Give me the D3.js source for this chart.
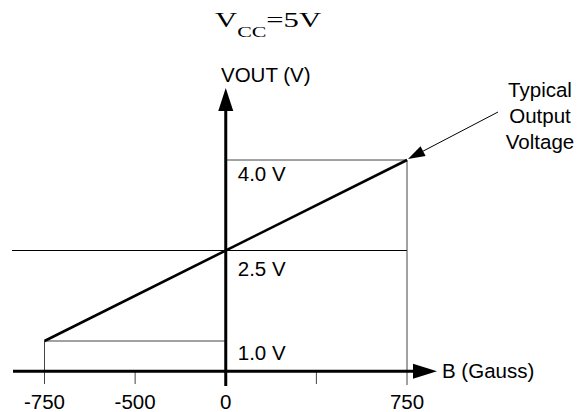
<!DOCTYPE html>
<html lang="en">
<head>
    <meta charset="UTF-8">
    <script src="https://d3js.org/d3.v7.min.js"></script>
    <title>VOUT vs B</title>
    <style>
        body { margin: 0; background: #fff; }
        svg text { font-family: Arial, "Liberation Sans", sans-serif; font-size: 20.5px; fill: #000; }
        .title text { font-family: "Times New Roman", "Liberation Serif", serif; }
        .ref { stroke: #444; stroke-width: 1px; }
    </style>
</head>
<body>
    <div id="chart"></div>
    <script>
        // data
        var tickValues = [-750, -375, 0, 375, 750];
        var tickLabels = ["-750", "-500", "0", "", "750"];
        var levelField = [-750, 0, 750];      // Gauss
        var levelVolts = [1.0, 2.5, 4.0];     // V
        var levelLabels = ["1.0 V", "2.5 V", "4.0 V"];
        var outputField = [-750, 750];
        var outputVolts = [1.0, 4.0];
        var noteLines = ["Typical", "Output", "Voltage"];

        // layout
        var labelDy = [19, 25, 21];
        var axisVolts = 0.5;     // where the B axis crosses
        var tickBottom = 384;

        var svg = d3.select("#chart")
            .append("svg")
            .attr("width", 586)
            .attr("height", 412);

        var x = d3.scaleLinear().domain([-750, 750]).range([44.5, 407]);
        var y = d3.scaleLinear().domain([1, 4]).range([341, 160]);
        var axisY = y(axisVolts);

        // reference lines
        svg.append("line").attr("class", "ref")
            .attr("x1", x(-750)).attr("x2", x(0))
            .attr("y1", y(1)).attr("y2", y(1));
        svg.append("line").attr("class", "ref")
            .attr("x1", x(-750)).attr("x2", x(-750))
            .attr("y1", y(1)).attr("y2", tickBottom);
        svg.append("line").attr("class", "ref").style("stroke", "#000")
            .attr("x1", 12).attr("x2", x(750))
            .attr("y1", y(2.5)).attr("y2", y(2.5));
        svg.append("line").attr("class", "ref")
            .attr("x1", x(0)).attr("x2", x(750))
            .attr("y1", y(4)).attr("y2", y(4));
        svg.append("line").attr("class", "ref")
            .attr("x1", x(750)).attr("x2", x(750))
            .attr("y1", y(4)).attr("y2", tickBottom + 1);

        // ticks below the B axis
        svg.selectAll(".tick")
            .data(tickValues.filter(function (d) { return d !== -750 && d !== 750 && d !== 0; }))
            .enter().append("line")
            .attr("class", "ref")
            .attr("x1", function (d) { return x(d); })
            .attr("x2", function (d) { return x(d); })
            .attr("y1", axisY)
            .attr("y2", tickBottom);

        svg.selectAll(".tick-label")
            .data(tickValues)
            .enter().append("text")
            .attr("x", function (d) { return x(d); })
            .attr("y", 409)
            .attr("text-anchor", "middle")
            .text(function (d, i) { return tickLabels[i]; });

        // axes
        svg.append("line")
            .attr("x1", 13).attr("x2", 416)
            .attr("y1", axisY).attr("y2", axisY)
            .attr("stroke", "#000").attr("stroke-width", 3);
        svg.append("path")
            .attr("d", d3.line()([[413, axisY - 7.5], [437, axisY], [413, axisY + 7.5]]))
            .attr("fill", "#000");
        svg.append("text").attr("x", 442).attr("y", axisY + 7).text("B (Gauss)");

        svg.append("line")
            .attr("x1", x(0)).attr("x2", x(0))
            .attr("y1", 108).attr("y2", tickBottom + 2)
            .attr("stroke", "#000").attr("stroke-width", 3);
        svg.append("path")
            .attr("d", d3.line()([[x(0) - 7.5, 111], [x(0), 88], [x(0) + 7.5, 111]]))
            .attr("fill", "#000");
        svg.append("text").attr("x", 221).attr("y", 82).text("VOUT (V)");

        // level labels
        svg.selectAll(".level")
            .data(levelVolts)
            .enter().append("text")
            .attr("x", x(0) + 12)
            .attr("y", function (d, i) { return y(d) + labelDy[i]; })
            .text(function (d, i) { return levelLabels[i]; });

        // typical output line
        svg.append("path")
            .datum(d3.zip(outputField, outputVolts))
            .attr("d", d3.line().x(function (d) { return x(d[0]); }).y(function (d) { return y(d[1]); }))
            .attr("fill", "none")
            .attr("stroke", "#000")
            .attr("stroke-width", 2.6);

        // pointer to the line end
        var tip = [x(750) + 1, y(4) - 1];
        var from = [498, 112];
        var ang = Math.atan2(from[1] - tip[1], from[0] - tip[0]);
        var hl = 17, hw = 5.5;
        var base = [tip[0] + hl * Math.cos(ang), tip[1] + hl * Math.sin(ang)];
        svg.append("line")
            .attr("x1", from[0]).attr("y1", from[1])
            .attr("x2", base[0]).attr("y2", base[1])
            .attr("stroke", "#000").attr("stroke-width", 1);
        svg.append("path")
            .attr("d", d3.line()([
                tip,
                [base[0] - hw * Math.sin(ang), base[1] + hw * Math.cos(ang)],
                [base[0] + hw * Math.sin(ang), base[1] - hw * Math.cos(ang)]
            ]))
            .attr("fill", "#000");

        svg.selectAll(".note")
            .data(noteLines)
            .enter().append("text")
            .attr("x", 540)
            .attr("y", function (d, i) { return 97 + i * 26; })
            .attr("text-anchor", "middle")
            .text(function (d) { return d; });

        // title, stretched a bit like the source
        var title = svg.append("g")
            .attr("class", "title")
            .attr("transform", "translate(215,27) scale(1.46,1)");
        var t = title.append("text").style("font-size", "21px");
        t.append("tspan").text("V");
        t.append("tspan").attr("dy", 10).style("font-size", "15px").text("CC");
        t.append("tspan").attr("dy", -10).text("=5V");
    </script>
</body>
</html>
